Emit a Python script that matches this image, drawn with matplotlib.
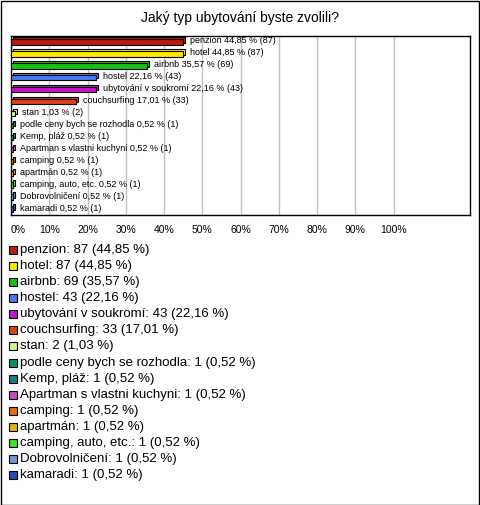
import matplotlib
matplotlib.use("Agg")
import matplotlib.pyplot as plt
import matplotlib.transforms as mtransforms
from matplotlib.patches import Rectangle
import numpy as np

plt.rcParams['font.family'] = ['Liberation Sans', 'DejaVu Sans']

title = "Jaký typ ubytování byste zvolili?"
categories = ["penzion", "hotel", "airbnb", "hostel", "ubytování v soukromí",
              "couchsurfing", "stan", "podle ceny bych se rozhodla", "Kemp, pláž",
              "Apartman s vlastni kuchyni", "camping", "apartmán",
              "camping, auto, etc.", "Dobrovolničení", "kamaradi"]
counts = [87, 87, 69, 43, 43, 33, 2, 1, 1, 1, 1, 1, 1, 1, 1]
percents = [44.85, 44.85, 35.57, 22.16, 22.16, 17.01, 1.03, 0.52, 0.52, 0.52,
            0.52, 0.52, 0.52, 0.52, 0.52]
colors = ["#C0180C", "#FFE800", "#18C018", "#4A78F0", "#C018C8", "#E04010",
          "#C8F890", "#109060", "#207888", "#C050C0", "#E07010", "#E8B010",
          "#40E030", "#7098E0", "#2050B8"]
xticks = [0, 10, 20, 30, 40, 50, 60, 70, 80, 90, 100]
xticklabels = [f"{t}%" for t in xticks]


def fmt(p):
    return f"{p:.2f}".replace(".", ",")


W, H = 480, 505
fig = plt.figure(figsize=(W / 100, H / 100), dpi=100)

# outer border
fig.add_artist(Rectangle((0.5 / W, 0.5 / H), 1 - 1.5 / W, 1 - 1.5 / H,
                         transform=fig.transFigure, fill=False,
                         edgecolor="black", linewidth=1))

fig.text(0.5, 1 - 18 / H, title, ha="center", va="center", fontsize=10)

ax = fig.add_axes([11 / W, 1 - 215 / H, (470 - 11) / W, (215 - 36) / H])
n = len(categories)
y = np.arange(n)

depth = mtransforms.ScaledTranslation(2 / 100, 2 / 100, fig.dpi_scale_trans)
bh = 0.45
ax.barh(y, percents, height=bh, color=colors, edgecolor="black",
        linewidth=0.8, transform=ax.transData + depth, zorder=3)
ax.barh(y, percents, height=bh, color=colors, edgecolor="black",
        linewidth=0.8, zorder=4)

lab_off = mtransforms.ScaledTranslation(7 / 100, 1 / 100, fig.dpi_scale_trans)
for yi, name, p, c in zip(y, categories, percents, counts):
    ax.text(p, yi, f"{name} {fmt(p)} % ({c})", ha="left", va="center",
            fontsize=6.5, transform=ax.transData + lab_off, zorder=5)

ax.set_xlim(0, 120)
ax.set_ylim(n - 0.5, -0.5)
ax.set_xticks(xticks)
ax.set_xticklabels(xticklabels, fontsize=7.5)
ax.get_xticklabels()[0].set_horizontalalignment("left")
ax.set_yticks([])
ax.tick_params(axis="x", length=0, pad=7)
ax.grid(axis="x", color="#C0C0C0", linewidth=1, zorder=0)
ax.set_axisbelow(True)
for s in ax.spines.values():
    s.set_color("black")
    s.set_linewidth(1)

# legend
y0 = 250
dy = 16.08
for i, (name, p, c, col) in enumerate(zip(categories, percents, counts, colors)):
    yc = y0 + i * dy
    fig.add_artist(Rectangle((9 / W, 1 - (yc + 4) / H), 8 / W, 8 / H,
                             transform=fig.transFigure, facecolor=col,
                             edgecolor="black", linewidth=0.8))
    fig.text(20 / W, 1 - yc / H, f"{name}: {c} ({fmt(p)} %)", ha="left",
             va="center", fontsize=9.5)

fig.savefig("out.png", dpi=100)
